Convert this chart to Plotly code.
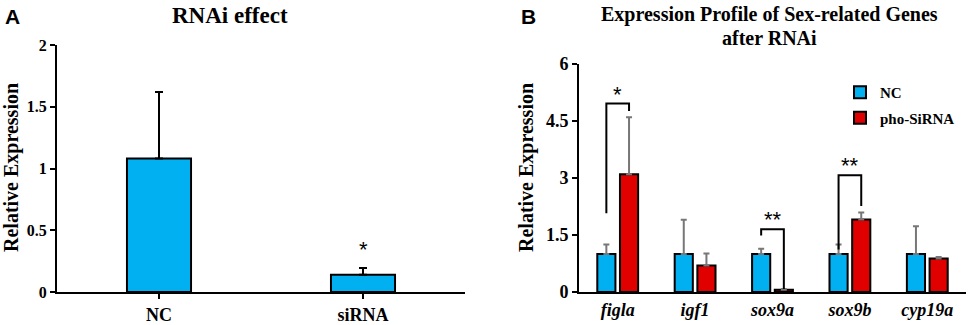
import plotly.graph_objects as go

W, H = 969, 325

# ---------- Data ----------
a_categories = ["NC", "siRNA"]
a_values = [1.08, 0.14]
a_errors = [0.54, 0.055]
a_sig = ["", "*"]

genes = ["figla", "igf1", "sox9a", "sox9b", "cyp19a"]
nc_values = [1.0, 1.0, 1.0, 1.0, 1.0]
nc_errors = [0.25, 0.90, 0.14, 0.25, 0.73]
si_values = [3.10, 0.70, 0.06, 1.91, 0.88]
si_errors = [1.50, 0.31, 0.02, 0.18, 0.04]

# significance brackets: gene index, left foot, top, right foot (data units), label
brackets_gene = [0, 2, 3]
brackets_left = [2.07, 1.49, 1.12]
brackets_top = [4.96, 1.65, 3.07]
brackets_right = [4.76, 0.08, 2.26]
brackets_label = ["*", "**", "**"]

y_ticks_a = [0, 0.5, 1, 1.5, 2]
y_ticks_b = [0, 1.5, 3, 4.5, 6]
y_tick_text_b = ["0", "1.5", "3", "4.5", "6"]

title_a = "RNAi effect"
title_b_lines = ["Expression Profile of Sex-related Genes", "after RNAi"]
y_title = "Relative Expression"

BLUE = "#00B0F0"
RED = "#E00000"
SERIF = "Liberation Serif"
SANS = "Liberation Sans"

BARGAP_B = 0.414
BARGROUPGAP_B = 0.2
half_group = (1 - BARGAP_B) / 4.0  # center offset of each bar in a pair

fig = go.Figure()

fig.add_trace(go.Bar(
    x=a_categories, y=a_values, width=0.314,
    marker=dict(color=BLUE, line=dict(color="black", width=2)),
    error_y=dict(type="data", array=a_errors, arrayminus=[0] * len(a_errors),
                 symmetric=False, color="black", thickness=2, width=4),
    xaxis="x", yaxis="y", showlegend=False,
))

fig.add_trace(go.Bar(
    name="NC", x=list(range(len(genes))), y=nc_values,
    marker=dict(color=BLUE, line=dict(color="black", width=2)),
    error_y=dict(type="data", array=nc_errors, arrayminus=[0] * len(genes),
                 symmetric=False, color="#777777", thickness=2, width=3),
    xaxis="x2", yaxis="y2", legendgroup="g1",
))
fig.add_trace(go.Bar(
    name="pho-SiRNA", x=list(range(len(genes))), y=si_values,
    marker=dict(color=RED, line=dict(color="black", width=2)),
    error_y=dict(type="data", array=si_errors, arrayminus=[0] * len(genes),
                 symmetric=False, color="#777777", thickness=2, width=3),
    xaxis="x2", yaxis="y2", legendgroup="g2",
))

shapes = []
annotations = []
for gi, yl, yt, yr, lab in zip(brackets_gene, brackets_left, brackets_top,
                               brackets_right, brackets_label):
    xl = gi - half_group
    xr = gi + half_group
    shapes.append(dict(
        type="path", xref="x2", yref="y2",
        path=f"M {xl},{yl} L {xl},{yt} L {xr},{yt} L {xr},{yr}",
        line=dict(color="black", width=2),
    ))
    annotations.append(dict(
        x=gi, y=yt, xref="x2", yref="y2", text=lab, showarrow=False,
        yanchor="bottom", yshift=-5,
        font=dict(family=SANS, size=22, color="black"),
    ))

for cat, v, e, s in zip(a_categories, a_values, a_errors, a_sig):
    if s:
        annotations.append(dict(
            x=cat, y=v + e, xref="x", yref="y", text=s, showarrow=False,
            yanchor="bottom", yshift=4,
            font=dict(family=SANS, size=22, color="black"),
        ))

annotations += [
    dict(x=3 / W, y=1 - 3 / H, xref="paper", yref="paper", text="A",
         showarrow=False, xanchor="left", yanchor="top",
         font=dict(family=SANS, size=21, color="black", weight="bold")),
    dict(x=519 / W, y=1 - 3 / H, xref="paper", yref="paper", text="B",
         showarrow=False, xanchor="left", yanchor="top",
         font=dict(family=SANS, size=21, color="black", weight="bold")),
    dict(x=230 / W, y=1 - 1 / H, xref="paper", yref="paper", text=title_a,
         showarrow=False, xanchor="center", yanchor="top",
         font=dict(family=SERIF, size=23, color="black", weight="bold")),
    dict(x=769 / W, y=1 - 1 / H, xref="paper", yref="paper",
         text=title_b_lines[0],
         showarrow=False, xanchor="center", yanchor="top",
         font=dict(family=SERIF, size=20, color="black", weight="bold")),
    dict(x=769 / W, y=1 - 25 / H, xref="paper", yref="paper",
         text=title_b_lines[1],
         showarrow=False, xanchor="center", yanchor="top",
         font=dict(family=SERIF, size=20, color="black", weight="bold")),
    dict(x=11 / W, y=1 - 168 / H, xref="paper", yref="paper",
         text=y_title, textangle=-90, showarrow=False,
         xanchor="center", yanchor="middle",
         font=dict(family=SERIF, size=20, color="black", weight="bold")),
    dict(x=526 / W, y=1 - 168 / H, xref="paper", yref="paper",
         text=y_title, textangle=-90, showarrow=False,
         xanchor="center", yanchor="middle",
         font=dict(family=SERIF, size=20, color="black", weight="bold")),
]

axis_common = dict(showgrid=False, zeroline=False, showline=True,
                   linecolor="black", linewidth=2, automargin=False)

fig.update_layout(
    template="none",
    width=W, height=H,
    margin=dict(l=0, r=0, t=0, b=0, autoexpand=False),
    paper_bgcolor="white", plot_bgcolor="white",
    barmode="group", bargap=BARGAP_B, bargroupgap=BARGROUPGAP_B,
    xaxis=dict(domain=[57 / W, 465 / W], range=[-0.5, 1.5], type="category",
               ticks="outside", ticklen=5, tickwidth=2, tickcolor="black",
               tickfont=dict(family=SERIF, size=18, color="black", weight="bold"),
               anchor="y", **axis_common),
    yaxis=dict(domain=[33 / H, 1 - 45 / H], range=[0, 2], tickvals=y_ticks_a,
               ticks="outside", ticklen=5, tickwidth=2, tickcolor="black",
               tickfont=dict(family=SERIF, size=16, color="black", weight="bold"),
               anchor="x", **axis_common),
    xaxis2=dict(domain=[579 / W, 966 / W], range=[-0.5, 4.5],
                tickvals=list(range(len(genes))), ticktext=genes, ticks="",
                tickfont=dict(family=SERIF, size=18, color="black",
                              weight="bold", style="italic"),
                anchor="y2", **axis_common),
    yaxis2=dict(domain=[33 / H, 1 - 64 / H], range=[0, 6], tickvals=y_ticks_b,
                ticktext=y_tick_text_b,
                ticks="outside", ticklen=5, tickwidth=2, tickcolor="black",
                tickfont=dict(family=SERIF, size=18, color="black", weight="bold"),
                anchor="x2", **axis_common),
    legend=dict(x=840 / W, y=1 - 76 / H, xanchor="left", yanchor="top",
                traceorder="grouped", tracegroupgap=3,
                font=dict(family=SERIF, size=15, color="black", weight="bold"),
                bgcolor="rgba(0,0,0,0)"),
    shapes=shapes,
    annotations=annotations,
)

fig.write_html(
    "out.html",
    config={"displayModeBar": False},
    post_script="document.body.style.margin='0';document.body.style.overflow='hidden';",
)
